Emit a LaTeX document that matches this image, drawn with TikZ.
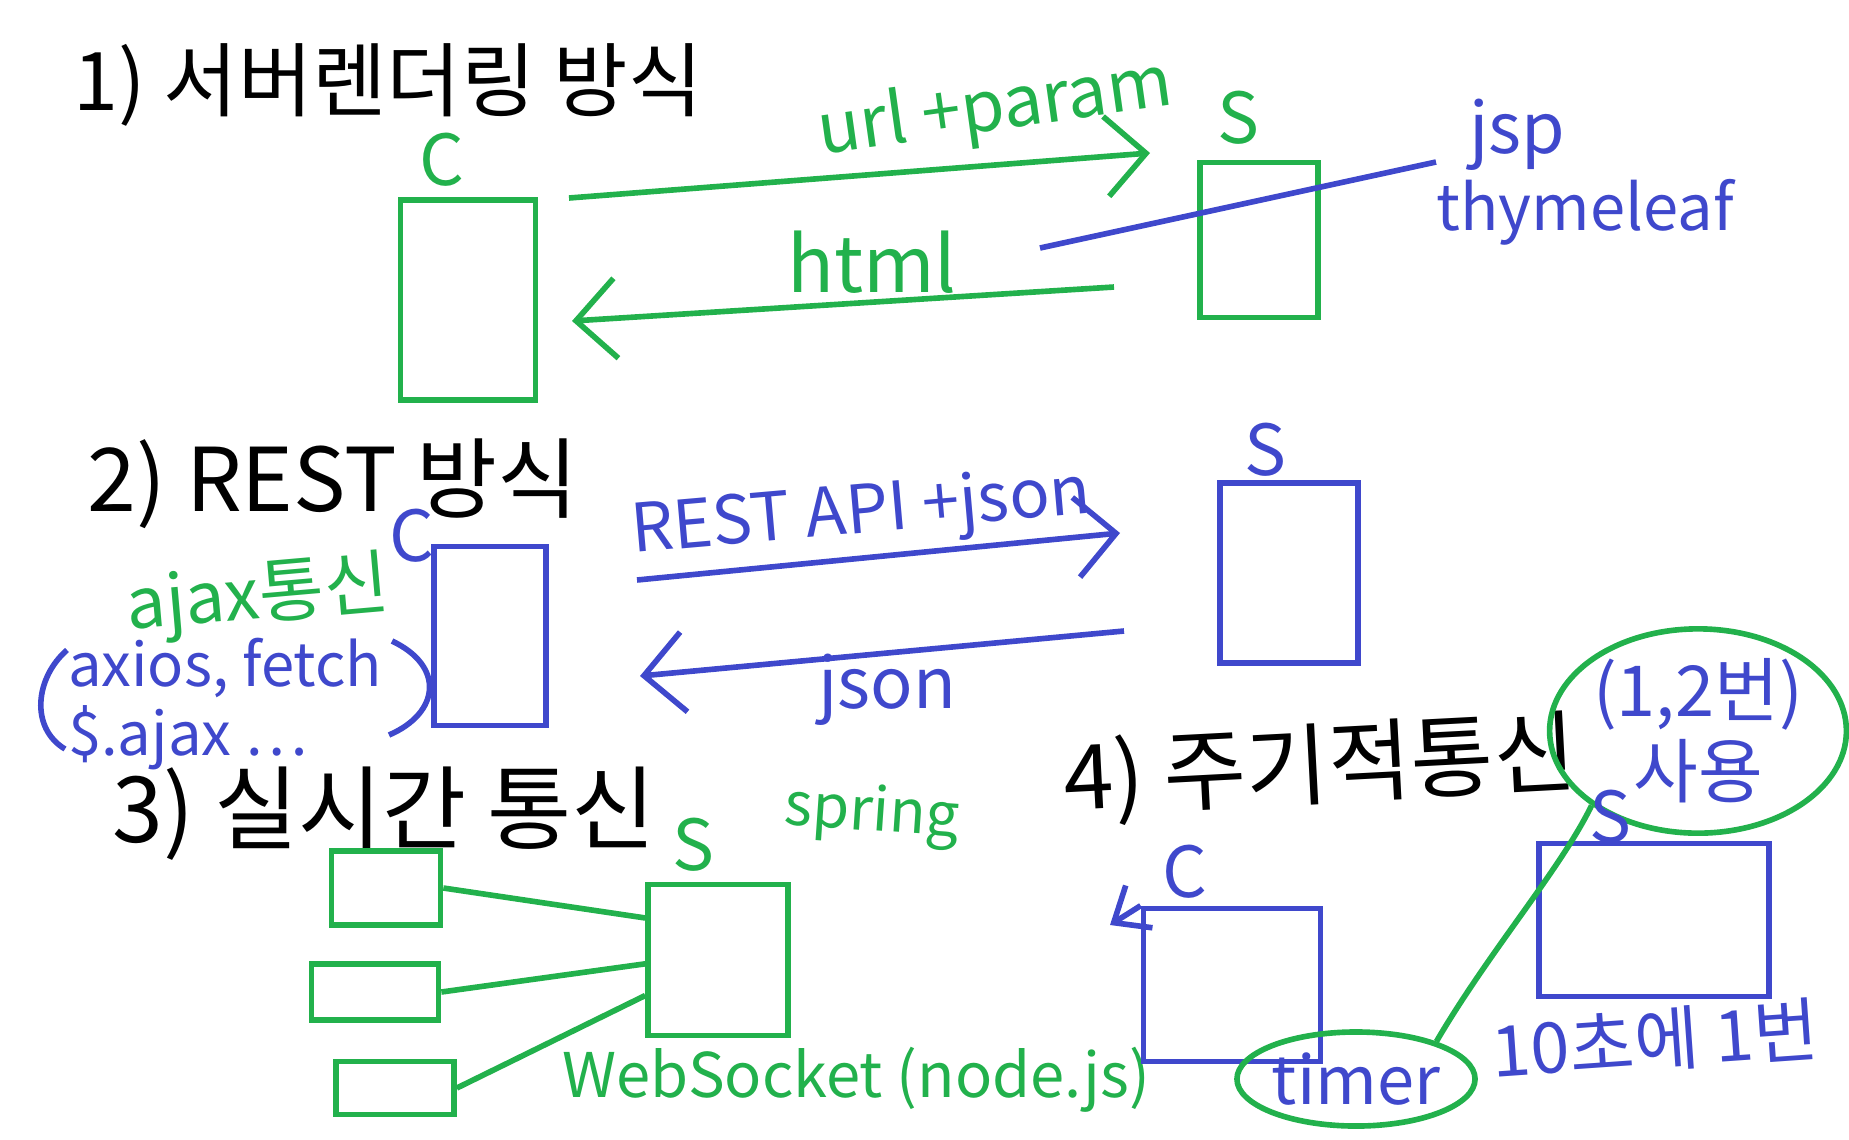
\documentclass[tikz,border=0pt]{standalone}
\usepackage{fontspec}
\setmainfont{Noto Sans CJK KR}
\usetikzlibrary{arrows.meta,shapes.geometric}
\definecolor{pgreen}{RGB}{34,177,76}
\definecolor{pblue}{RGB}{63,72,204}
\tikzstyle{gbox} = [draw=pgreen, line width=1.6pt, rectangle, inner sep=0pt]
\tikzstyle{bbox} = [draw=pblue, line width=1.6pt, rectangle, inner sep=0pt]
\tikzstyle{gline} = [draw=pgreen, line width=1.6pt]
\tikzstyle{bline} = [draw=pblue, line width=1.6pt]
\tikzstyle{barb} = [-{Straight Barb[length=4mm,width=8mm]}]
\tikzstyle{heading} = [text=black, font=\fontsize{23}{27}\selectfont, inner sep=0pt]
\tikzstyle{gtext} = [text=pgreen, font=\fontsize{20}{24}\selectfont, inner sep=0pt]
\tikzstyle{btext} = [text=pblue, font=\fontsize{20}{24}\selectfont, inner sep=0pt]
\tikzstyle{oval} = [ellipse, draw=pgreen, line width=1.6pt, text=pblue, align=center, inner sep=0pt]

\begin{document}
\begin{tikzpicture}[x=0.01cm, y=-0.01cm]
\useasboundingbox (0,0) rectangle (1849,1139);
% 1) server side rendering
\node[heading] (t1) at (388,85) {1) 서버렌더링 방식};
\node[gtext] (c1l) at (442,160) {C};
\node[gbox, minimum width=1.35cm, minimum height=2cm] (c1) at (468,300) {};
\node[gtext] (s1l) at (1238,118) {S};
\node[gbox, minimum width=1.18cm, minimum height=1.55cm] (s1) at (1259,240) {};
\coordinate (r1a) at (569,198);
\coordinate (r1b) at (1150,153);
\draw[gline, barb] (r1a) -- (r1b);
\node[gtext, rotate=8] (req1) at (995,110) {url +param};
\coordinate (v1a) at (1040,248);
\coordinate (v1b) at (1436,162);
\draw[bline] (v1a) -- (v1b);
\node[btext] (jsp) at (1517,135) {jsp};
\node[btext, font=\fontsize{18}{22}\selectfont] (thy) at (1585,212) {thymeleaf};
\coordinate (h1a) at (1114,287);
\coordinate (h1b) at (572,321);
\draw[gline, barb] (h1a) -- (h1b);
\node[gtext, font=\fontsize{22}{26}\selectfont] (html) at (872,262) {html};

% 2) REST
\node[heading, font=\fontsize{25}{29}\selectfont] (t2) at (333,484) {2) REST 방식};
\node[btext] (c2l) at (412,536) {C};
\node[bbox, minimum width=1.12cm, minimum height=1.79cm] (c2) at (490,636) {};
\node[btext] (s2l) at (1265,450) {S};
\node[bbox, minimum width=1.38cm, minimum height=1.8cm] (s2) at (1289,573) {};
\coordinate (r2a) at (637,580);
\coordinate (r2b) at (1120,533);
\draw[bline, barb] (r2a) -- (r2b);
\node[btext, rotate=5, font=\fontsize{19}{23}\selectfont] (req2) at (861,515) {REST API +json};
\coordinate (h2a) at (1124,631);
\coordinate (h2b) at (640,676);
\draw[bline, barb] (h2a) -- (h2b);
\node[btext] (res2) at (887,690) {json};
\node[gtext, rotate=5, font=\fontsize{20}{24}\selectfont] (ajax) at (258,598) {ajax통신};
\node[btext, align=left, font=\fontsize{17}{19.5}\selectfont] (libs) at (225,704) {axios, fetch\\\$.ajax \dots};
\draw[bline] (67,650) .. controls (35,678) and (30,728) .. (65,749);
\draw[bline] (392,641) .. controls (445,666) and (440,713) .. (389,735);

% 3) realtime
\node[heading, font=\fontsize{26}{30}\selectfont] (t3) at (384,814) {3) 실시간 통신};
\node[gtext] (s3l) at (693,845) {S};
\node[gtext, font=\fontsize{17}{20}\selectfont, rotate=-4] (spr) at (872,815) {spring};
\node[gbox, minimum width=1.4cm, minimum height=1.51cm] (s3) at (718,960) {};
\node[gbox, minimum width=1.09cm, minimum height=0.74cm] (b1) at (386,888) {};
\node[gbox, minimum width=1.27cm, minimum height=0.56cm] (b2) at (375,992) {};
\node[gbox, minimum width=1.18cm, minimum height=0.53cm] (b3) at (395,1088) {};
\draw[gline] (b1.east) -- (s3.150);
\draw[gline] (b2.east) -- (s3.183);
\draw[gline] (b3.east) -- (s3.206);
\node[gtext, font=\fontsize{17.5}{21}\selectfont] (ws) at (856,1080) {WebSocket (node.js)};

% 4) polling
\node[heading, font=\fontsize{25.5}{30}\selectfont, rotate=3] (t4) at (1320,769) {4) 주기적통신};
\node[oval, minimum width=2.84cm, minimum height=1.55cm, font=\fontsize{20}{23}\selectfont] (e1) at (1698,731) {(1,2번)\\사용};
\node[btext] (c4l) at (1185,872) {C};
\node[bbox, minimum width=1.77cm, minimum height=1.53cm] (c4) at (1232,985) {};
\coordinate (c4tip) at (1110,925);
\draw[bline, -{Straight Barb[length=3mm,width=5mm]}] (c4.north west) -- (c4tip);
\node[btext] (s4l) at (1610,817) {S};
\node[bbox, minimum width=2.3cm, minimum height=1.53cm] (s4) at (1654,920) {};
\node[oval, minimum width=2.36cm, minimum height=0.94cm, font=\fontsize{19}{23}\selectfont] (tm) at (1356,1079) {timer};
\draw[gline] (e1.215) .. controls (1560,870) and (1490,950) .. (tm.25);
\node[btext, rotate=4] (per) at (1655,1040) {10초에 1번};
\end{tikzpicture}
\end{document}
